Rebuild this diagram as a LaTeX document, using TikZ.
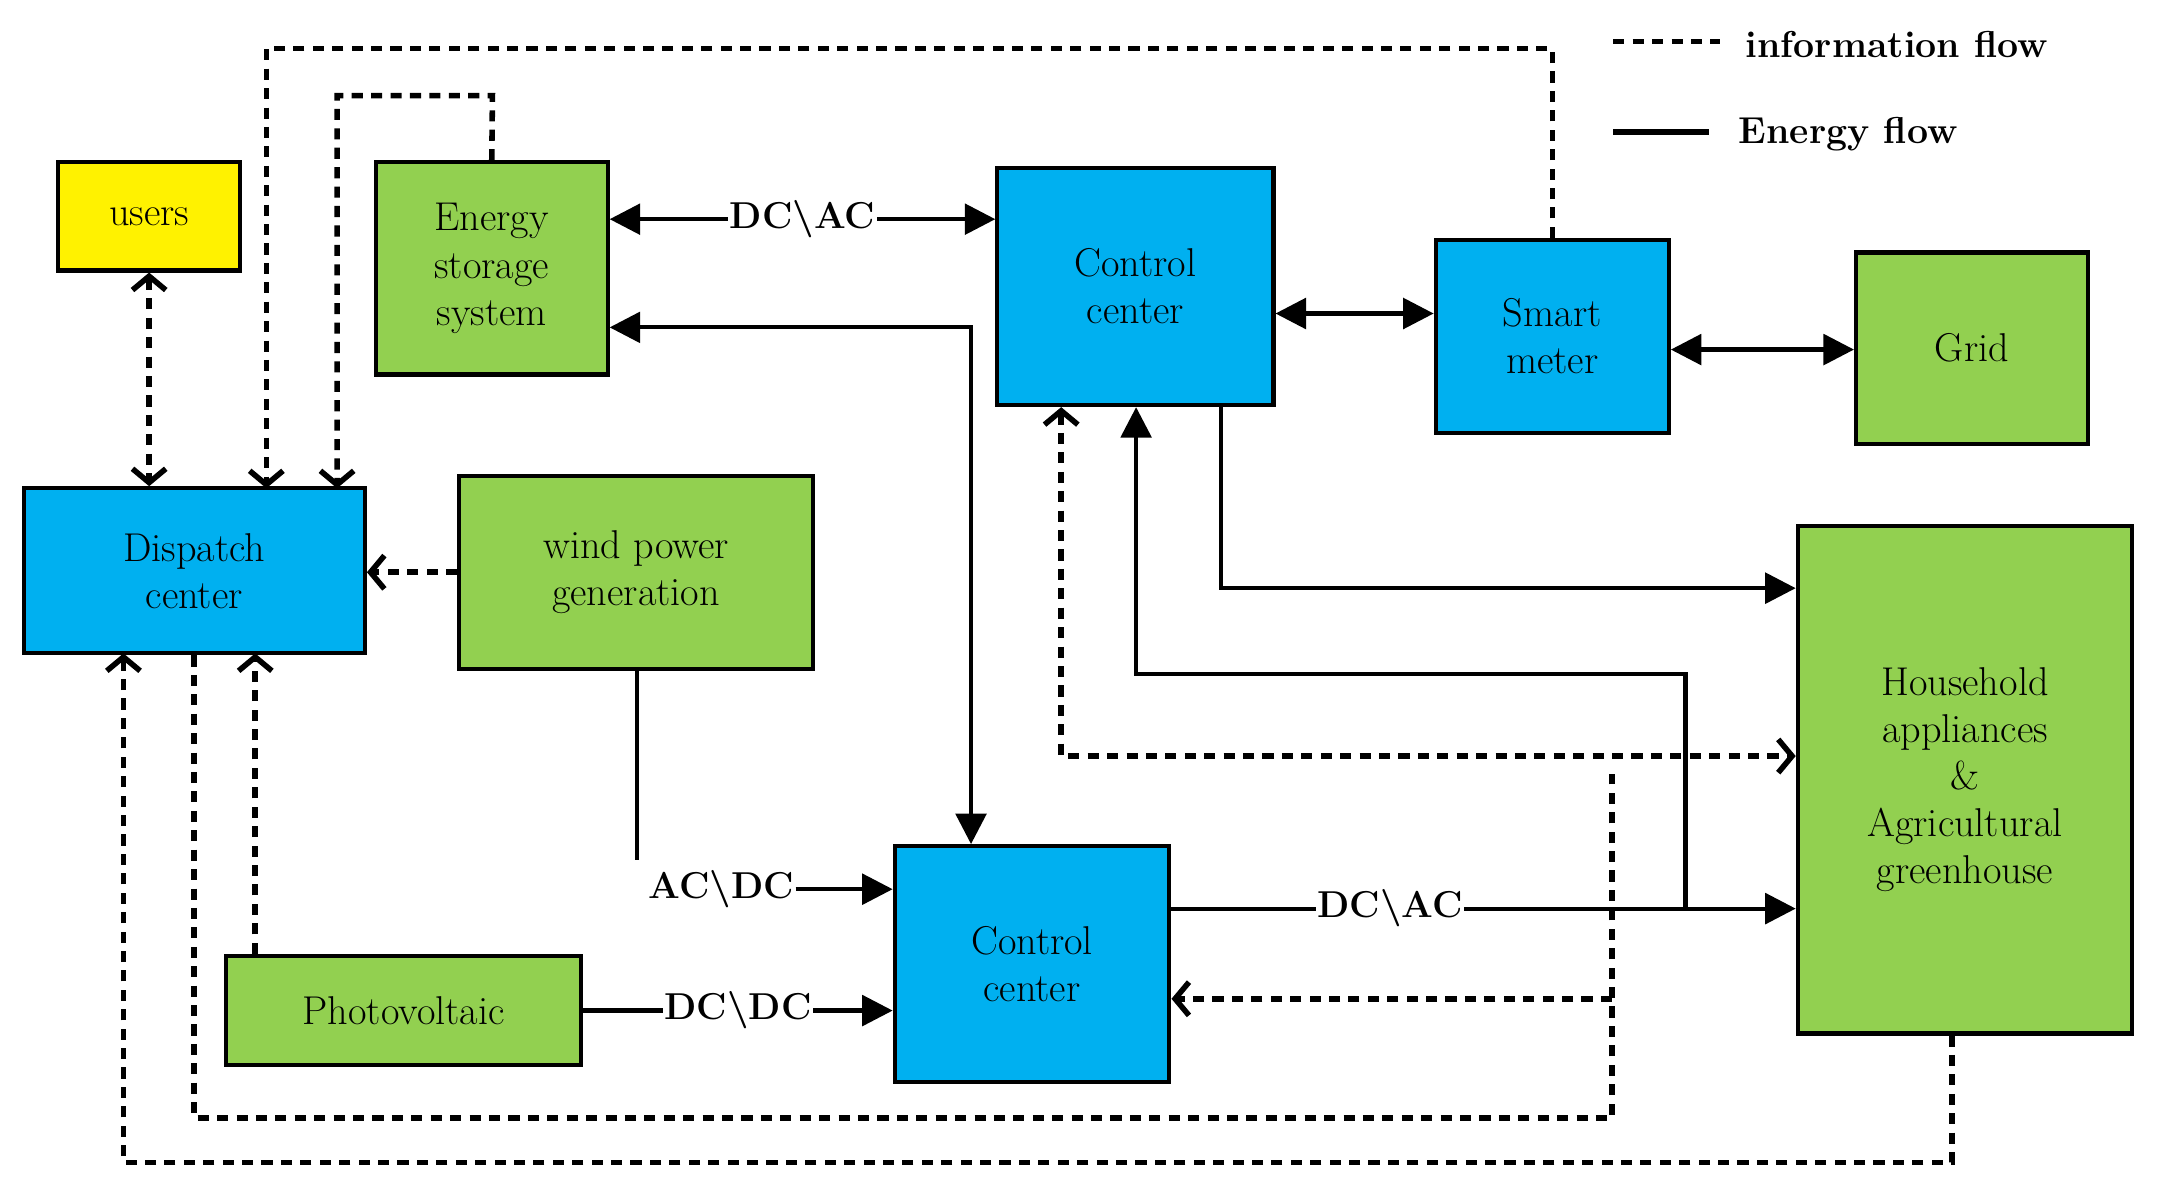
\documentclass[tikz,border=0pt]{standalone}
\usetikzlibrary{arrows.meta}
\begin{document}
\begin{tikzpicture}[x=1pt,y=-1pt,
  box/.style={draw=black,line width=3pt,inner sep=0pt,align=center,font=\fontsize{29}{34}\selectfont},
  grn/.style={box,fill=green!50!lime!70!olive!60},
  blu/.style={box,fill=cyan!80!blue!70},
  en/.style={line width=3pt},
  ea/.style={en,-{Triangle[length=22pt,width=22pt]}},
  eb/.style={en,{Triangle[length=22pt,width=22pt]}-{Triangle[length=22pt,width=22pt]}},
  inf/.style={line width=4pt,dash pattern=on 8pt off 6pt},
  ia/.style={inf,-{Straight Barb[length=10pt,width=24pt,line width=4pt]}},
  ib/.style={inf,{Straight Barb[length=10pt,width=24pt,line width=4pt]}-{Straight Barb[length=10pt,width=24pt,line width=4pt]}},
  lab/.style={font=\fontsize{27}{30}\selectfont\bfseries,fill=white,inner sep=1pt}]
\definecolor{g}{RGB}{146,208,80}\definecolor{b}{RGB}{0,176,240}
\tikzset{grn/.append style={fill=g},blu/.append style={fill=b}}
\useasboundingbox (0,0) rectangle (1560,857);
\node[box,fill=yellow,minimum width=131pt,minimum height=78pt] (users) at (107.5,156) {users};
\node[grn,minimum width=167pt,minimum height=153pt] (ess) at (354.5,193.5) {Energy\\storage\\system};
\node[blu,minimum width=199pt,minimum height=171pt] (cct) at (818.5,206.5) {Control\\center};
\node[blu,minimum width=168pt,minimum height=139pt] (sm) at (1119,242.5) {Smart\\meter};
\node[grn,minimum width=167pt,minimum height=138pt] (grid) at (1421.5,251) {Grid};
\node[blu,minimum width=246pt,minimum height=119pt] (dc) at (140,411.5) {Dispatch\\center};
\node[grn,minimum width=255pt,minimum height=139pt] (wind) at (458.5,412.5) {wind power\\generation};
\node[grn,minimum width=241pt,minimum height=366pt] (hh) at (1416.5,562) {Household\\appliances\\\&\\Agricultural\\greenhouse};
\node[blu,minimum width=198pt,minimum height=170pt] (ccb) at (744,695) {Control\\center};
\node[grn,minimum width=256pt,minimum height=79pt] (pv) at (291,728.5) {Photovoltaic};
% legend
\coordinate (l1) at (1163,30);\coordinate (l2) at (1240,30);
\draw[inf] (l1) -- (l2);
\node[anchor=west,font=\fontsize{27}{30}\selectfont\bfseries] (li) at (1255,32) {information flow};
\coordinate (l3) at (1163,95);\coordinate (l4) at (1232,95);
\draw[en,line width=4pt] (l3) -- (l4);
\node[anchor=west,font=\fontsize{27}{30}\selectfont\bfseries] (le) at (1250,97) {Energy flow};
% information flows
\draw[ib] (users.south) -- (dc.north -| users.south);
\draw[ia] (sm.north) -- (1119,35) -- (192,35) -- (192,352);
\draw[ia] (ess.north) -- (355,69) -- (243,69) -- (243,352);
\draw[ia] (wind.west) -- (dc.east |- wind.west);
\draw[ia] (hh.south -| 1407,0) -- (1407,838) -- (89,838) -- (89,471);
\draw[ia] (pv.north -| 184,0) -- (184,471);
\draw[inf] (dc.south -| 140,0) -- (140,806) -- (1162,806) -- (1162,558);
\draw[ia] (1162,720) -- (ccb.east |- 0,720);
\draw[ib] (cct.south -| 765,0) -- (765,545) -- (hh.west |- 0,545);
% energy flows
\draw[eb] (ess.east |- 0,158) -- node[lab]{DC\textbackslash AC} (cct.west |- 0,158);
\draw[eb] (ess.east |- 0,236) -- (700,236) -- (ccb.north -| 700,0);
\draw[eb] (cct.east |- 0,226) -- (sm.west |- 0,226);
\draw[eb] (sm.east |- 0,252) -- (grid.west |- 0,252);
\draw[ea] (cct.south -| 880,0) -- (880,424) -- (hh.west |- 0,424);
\draw[ea] (ccb.east |- 0,655) -- node[lab,pos=0.35]{DC\textbackslash AC} (hh.west |- 0,655);
\draw[ea] (1215,655) -- (1215,486) -- (819,486) -- (cct.south -| 819,0);
\draw[en] (wind.south -| 459,0) -- (459,620);
\node[lab,fill=none] (acdc) at (520,641) {AC\textbackslash DC};
\draw[ea] (acdc.east) -- (ccb.west |- acdc.east);
\draw[ea] (pv.east) -- node[lab]{DC\textbackslash DC} (ccb.west |- pv.east);
\end{tikzpicture}
\end{document}
